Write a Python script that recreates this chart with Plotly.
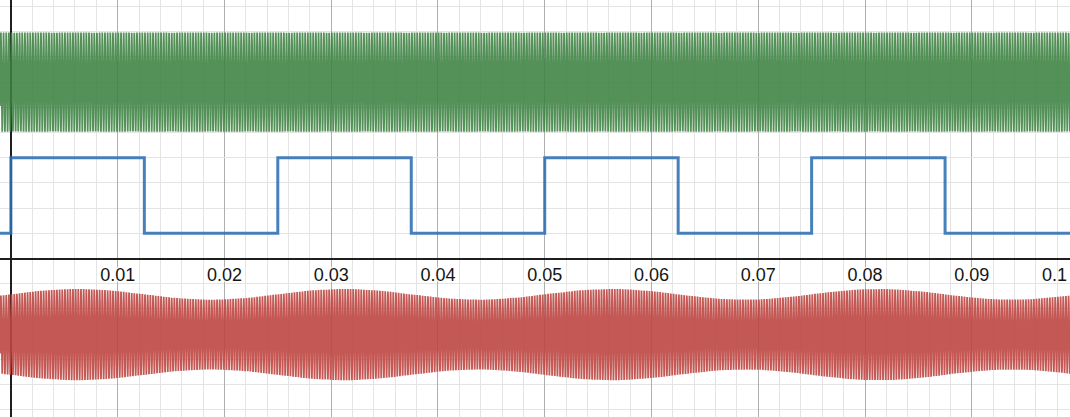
import numpy as np
import plotly.graph_objects as go

# ---- data ----
# x tick labels (time axis)
tick_vals = [0.01, 0.02, 0.03, 0.04, 0.05, 0.06, 0.07, 0.08, 0.09, 0.1]
tick_text = ["0.01", "0.02", "0.03", "0.04", "0.05", "0.06", "0.07", "0.08", "0.09", "0.1"]

# blue square wave (digital signal): edge times and levels
square_t = [-0.00102, 0.0, 0.0125, 0.025, 0.0375, 0.05, 0.0625, 0.075, 0.0875, 0.1]
square_y = [1, 4, 1, 4, 1, 4, 1, 4, 1, 4]

# green carrier (constant amplitude)
green_center = 7.0
green_amp = 1.97
green_freq = 4000.0

# red carrier with slowly varying envelope
red_center = -3.02
red_env_mean = 1.60
red_env_swing = 0.21
red_env_freq = 40.0
red_freq = 4000.0

t_start, t_end = -0.00102, 0.0992

# ---- build figure ----
t = np.linspace(t_start, t_end, 12000)
green = green_center + green_amp * np.sin(2 * np.pi * green_freq * t)
env = red_env_mean + red_env_swing * np.sin(2 * np.pi * red_env_freq * t)
red = red_center + env * np.sin(2 * np.pi * red_freq * t)

fig = go.Figure()
fig.add_trace(go.Scatter(x=t, y=green, mode="lines",
                         line=dict(color="rgba(60,130,65,0.88)", width=1.8),
                         hoverinfo="skip"))
fig.add_trace(go.Scatter(x=t, y=red, mode="lines",
                         line=dict(color="rgba(190,70,65,0.9)", width=1.8),
                         hoverinfo="skip"))
fig.add_trace(go.Scatter(x=square_t, y=square_y, mode="lines",
                         line=dict(color="rgba(45,112,179,0.88)", width=3, shape="hv"),
                         hoverinfo="skip"))

minor_col = "rgb(228,228,228)"
major_col = "rgb(175,175,175)"
label_font = dict(family="Liberation Sans, Arial, sans-serif", size=18,
                  color="rgb(20,20,20)",
                  shadow="1px 1px 1px white, -1px -1px 1px white, 1px -1px 1px white, -1px 1px 1px white")

fig.update_layout(
    width=1070, height=417,
    margin=dict(l=0, r=0, t=0, b=0),
    paper_bgcolor="white", plot_bgcolor="white",
    showlegend=False,
    xaxis=dict(
        range=[t_start, t_end],
        tickmode="array", tickvals=tick_vals, ticktext=tick_text,
        showgrid=True, gridcolor=major_col, gridwidth=1,
        minor=dict(tickmode="linear", tick0=0, dtick=0.002,
                   showgrid=True, gridcolor=minor_col, gridwidth=1),
        zeroline=True, zerolinecolor="rgb(30,30,30)", zerolinewidth=2,
        anchor="free", position=(417 - 258.5) / 417,
        showline=False, ticks="",
        ticklabelstandoff=3,
        tickfont=label_font,
        fixedrange=True,
    ),
    yaxis=dict(
        range=[-(417 - 258.5) / 25.2, 258.5 / 25.2],
        tickmode="linear", tick0=0, dtick=4,
        showgrid=True, gridcolor=minor_col, gridwidth=1,
        minor=dict(tickmode="linear", tick0=0, dtick=1,
                   showgrid=True, gridcolor=minor_col, gridwidth=1),
        zeroline=True, zerolinecolor="rgb(30,30,30)", zerolinewidth=2,
        showticklabels=False, ticks="",
        fixedrange=True,
    ),
)

# edge label (0.1) that sits at the right border, as in the reference
fig.add_annotation(text=tick_text[-1], xref="paper", yref="y", x=1.0, y=0,
                   xanchor="right", yanchor="top", xshift=-1, yshift=-4,
                   showarrow=False, font=label_font)

fig.write_html("out.html", config={"displayModeBar": False, "staticPlot": True},
               post_script="document.body.style.margin='0';document.body.style.overflow='hidden';")
